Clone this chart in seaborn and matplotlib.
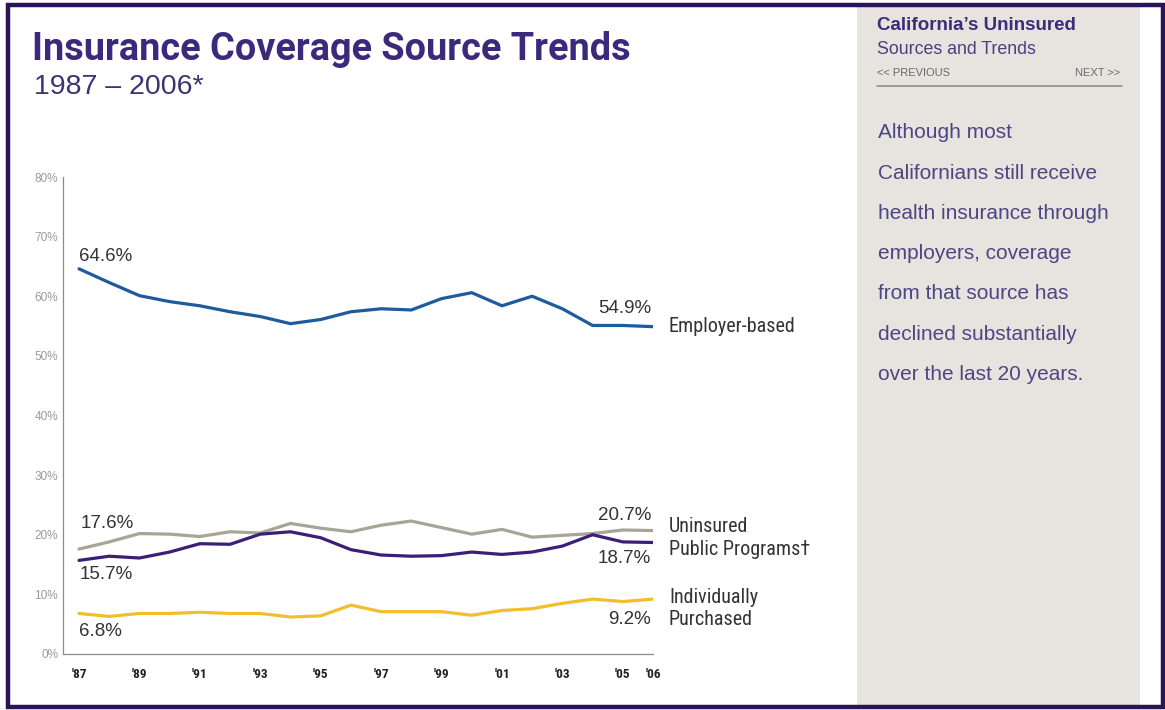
import matplotlib
matplotlib.use("Agg")
import matplotlib.pyplot as plt
from matplotlib.patches import Rectangle
from matplotlib.lines import Line2D
import seaborn as sns
import pandas as pd

# values (percent of Californians)
years = list(range(1987, 2007))
employer = [64.6, 62.3, 60.1, 59.1, 58.4, 57.4, 56.6, 55.4, 56.1, 57.4,
            57.9, 57.7, 59.6, 60.6, 58.4, 60.0, 57.9, 55.1, 55.1, 54.9]
uninsured = [17.6, 18.8, 20.2, 20.1, 19.7, 20.5, 20.3, 21.9, 21.1, 20.5,
             21.6, 22.3, 21.2, 20.1, 20.9, 19.6, 19.9, 20.2, 20.8, 20.7]
public = [15.7, 16.4, 16.1, 17.1, 18.5, 18.4, 20.1, 20.5, 19.5, 17.5,
          16.6, 16.4, 16.5, 17.1, 16.7, 17.1, 18.1, 20.0, 18.8, 18.7]
individual = [6.8, 6.3, 6.8, 6.8, 7.0, 6.8, 6.8, 6.2, 6.4, 8.2,
              7.1, 7.1, 7.1, 6.5, 7.3, 7.6, 8.5, 9.2, 8.8, 9.2]
series_names = ["Employer-based", "Uninsured", "Public Programs", "Individually Purchased"]
y_ticks = [0, 10, 20, 30, 40, 50, 60, 70, 80]
x_labels = ["'87", "", "'89", "", "'91", "", "'93", "", "'95", "", "'97", "",
            "'99", "", "'01", "", "'03", "", "'05", "'06"]

df = pd.DataFrame({
    "year": years * 4,
    "pct": employer + uninsured + public + individual,
    "source": [n for n in series_names for _ in years],
})

palette = {"Employer-based": "#1f5a9c", "Uninsured": "#a7a596",
           "Public Programs": "#3a1e78", "Individually Purchased": "#f3be2c"}

sns.set_style("white")
narrow = ["Roboto Condensed", "DejaVu Sans"]
plain = ["Liberation Sans", "DejaVu Sans"]
plt.rcParams["font.family"] = plain

W, H = 1165, 710
fig = plt.figure(figsize=(W / 100, H / 100), dpi=100)

def px(x, y):
    return x / W, 1 - y / H

# sidebar and purple frame
fig.patches.append(Rectangle(px(857, 706), (1140 - 857) / W, 699 / H,
                             transform=fig.transFigure, facecolor="#e7e4df",
                             edgecolor="none", zorder=0))
fig.patches.append(Rectangle(px(8, 707), (1163 - 8) / W, (707 - 5) / H,
                             transform=fig.transFigure, facecolor="none",
                             edgecolor="#2a1357", linewidth=3.2, zorder=5))

ax = fig.add_axes([63 / W, 1 - 654 / H, (653 - 63) / W, (654 - 177) / H])
sns.lineplot(data=df, x="year", y="pct", hue="source", palette=palette,
             linewidth=2.3, legend=False, ax=ax)

ax.set_xlim(1986.47, 2006.0)
ax.set_ylim(0, 80)
ax.set_xlabel("")
ax.set_ylabel("")
ax.set_yticks(y_ticks)
ax.set_yticklabels([f"{v}%" for v in y_ticks], family=plain, fontsize=8.5, color="#9a9a9a")
ax.set_xticks(years)
ax.set_xticklabels(x_labels, family=narrow, fontsize=9.5, fontweight="bold", color="#222222")
ax.tick_params(axis="y", direction="in", length=4.5, width=0.8, color="#8c8c8c", pad=3.5)
ax.tick_params(axis="x", direction="in", length=7, width=0.8, color="#8c8c8c", pad=10)
for s in ["top", "right"]:
    ax.spines[s].set_visible(False)
for s in ["left", "bottom"]:
    ax.spines[s].set_color("#8c8c8c")
    ax.spines[s].set_linewidth(0.9)
ax.patch.set_alpha(0)

# value labels at the ends of each line
def note(txt, x, y, dx, dy, ha, fam=plain, size=13.5):
    ax.annotate(txt, (x, y), xytext=(dx, dy), textcoords="offset pixels",
                ha=ha, va="center", family=fam, fontsize=size, color="#333333")

note("64.6%", years[0], employer[0], 0, 12, "left")
note("17.6%", years[0], uninsured[0], 2, 26, "left")
note("15.7%", years[0], public[0], 1, -14, "left")
note("6.8%", years[0], individual[0], 0, -18, "left")
note("54.9%", years[-1], employer[-1], -2, 18, "right")
note("20.7%", years[-1], uninsured[-1], -2, 15, "right")
note("18.7%", years[-1], public[-1], -2, -16, "right")
note("9.2%", years[-1], individual[-1], -2, -20, "right")
note("Employer-based", years[-1], employer[-1], 16, 0, "left", narrow, 14.5)
note("Uninsured", years[-1], uninsured[-1], 16, 4, "left", narrow, 14.5)
note("Public Programs\u2020", years[-1], public[-1], 16, -7, "left", narrow, 14.5)
note("Individually", years[-1], individual[-1], 16, 2, "left", narrow, 14.5)
note("Purchased", years[-1], individual[-1], 16, -20, "left", narrow, 14.5)

# titles
fig.text(*px(32, 50), "Insurance Coverage Source Trends", family=["Roboto", "DejaVu Sans"],
         fontweight="bold", fontsize=27.3, color="#3b2a7c", va="center", ha="left")
fig.text(*px(34, 87), "1987 \u2013 2006*", family=plain, fontsize=20.5,
         color="#3d3370", va="center", ha="left")

# sidebar texts
fig.text(*px(877, 25), "California\u2019s Uninsured", family=plain, fontweight="bold",
         fontsize=13.5, color="#3b2d7a", va="center", ha="left")
fig.text(*px(877, 50), "Sources and Trends", family=plain, fontsize=12.8,
         color="#4a3f80", va="center", ha="left")
fig.text(*px(877, 73), "<< PREVIOUS", family=plain, fontsize=8,
         color="#6a6a6a", va="center", ha="left")
fig.text(*px(1120, 73), "NEXT >>", family=plain, fontsize=8,
         color="#6a6a6a", va="center", ha="right")
fig.lines.append(Line2D([877 / W, 1122 / W], [1 - 86 / H, 1 - 86 / H],
                        transform=fig.transFigure, color="#8a8872", linewidth=1.1))

body = ["Although most", "Californians still receive", "health insurance through",
        "employers, coverage", "from that source has", "declined substantially",
        "over the last 20 years."]
for i, line in enumerate(body):
    fig.text(*px(878, 133 + 40.2 * i), line, family=plain, fontsize=15,
             color="#4c4682", va="center", ha="left")

fig.savefig("out.png", dpi=100)
